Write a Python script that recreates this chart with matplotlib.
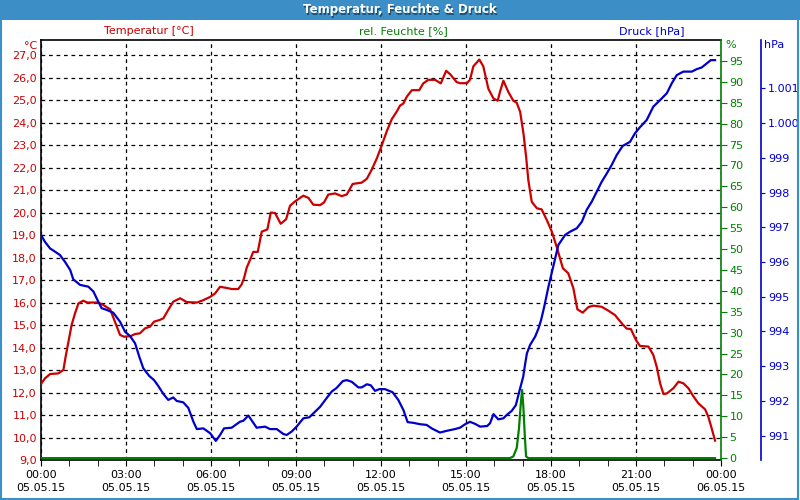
import numpy as np
import matplotlib.pyplot as plt
from matplotlib.patches import Rectangle
from matplotlib.ticker import FixedLocator, MultipleLocator, FuncFormatter

# hours since 05.05.15 00:00
t_hours = [0.00, 0.14, 0.32, 0.61, 0.79, 0.87, 0.96, 1.08, 1.20, 1.32, 1.49, 1.63,
           2.02, 2.20, 2.44, 2.61, 2.79, 2.93, 3.17, 3.32, 3.49, 3.67, 3.85, 3.99,
           4.18, 4.32, 4.49, 4.67, 4.91, 5.14, 5.50, 5.72, 5.97, 6.14, 6.32, 6.55,
           6.73, 6.96, 7.08, 7.17, 7.26, 7.38, 7.49, 7.65, 7.79, 7.99, 8.11, 8.26,
           8.46, 8.65, 8.79, 8.97, 9.26, 9.44, 9.61, 9.85, 9.99, 10.14, 10.38, 10.61,
           10.79, 11.00, 11.32, 11.50, 11.67, 11.85, 12.03, 12.20, 12.38, 12.56, 12.67,
           12.79, 12.91, 13.09, 13.35, 13.49, 13.67, 13.91, 14.11, 14.30, 14.44, 14.67,
           14.79, 15.03, 15.14, 15.26, 15.47, 15.61, 15.79, 15.97, 16.12, 16.20, 16.32,
           16.49, 16.67, 16.79, 16.91, 17.03, 17.12, 17.20, 17.32, 17.50, 17.67, 17.85,
           18.03, 18.20, 18.42, 18.61, 18.79, 18.93, 19.12, 19.32, 19.50, 19.79, 20.02,
           20.26, 20.50, 20.67, 20.82, 21.00, 21.14, 21.44, 21.61, 21.73, 21.85, 21.97,
           22.09, 22.32, 22.50, 22.67, 22.85, 23.02, 23.20, 23.44, 23.55, 23.67, 23.79]
temperatur = [12.38, 12.63, 12.82, 12.85, 13.0, 13.6, 14.19, 15.0, 15.52, 15.96, 16.08, 16.0,
              16.0, 15.89, 15.7, 15.15, 14.56, 14.48, 14.51, 14.6, 14.63, 14.85, 14.93, 15.15,
              15.22, 15.3, 15.67, 16.04, 16.19, 16.02, 16.0, 16.1, 16.25, 16.4, 16.7, 16.65,
              16.6, 16.6, 16.8, 17.1, 17.55, 17.9, 18.25, 18.25, 19.15, 19.25, 20.0, 19.98,
              19.5, 19.7, 20.3, 20.5, 20.75, 20.65, 20.35, 20.33, 20.45, 20.8, 20.85, 20.73,
              20.8, 21.27, 21.33, 21.5, 21.9, 22.4, 23.0, 23.6, 24.15, 24.5, 24.75,
              24.85, 25.15, 25.44, 25.44, 25.74, 25.9, 25.9, 25.74, 26.3, 26.15, 25.8,
              25.75, 25.75, 25.9, 26.5, 26.8, 26.5, 25.5, 25.07, 24.97, 25.37, 25.86,
              25.37, 24.97, 24.88, 24.48, 23.5, 22.5, 21.44, 20.48, 20.19, 20.14, 19.67,
              19.15, 18.48, 17.52, 17.3, 16.63, 15.7, 15.55, 15.8, 15.86, 15.81, 15.64,
              15.44, 15.07, 14.84, 14.82, 14.33, 14.07, 14.04, 13.67, 13.15, 12.41, 11.93,
              11.96, 12.19, 12.48, 12.41, 12.19, 11.84, 11.52, 11.25, 10.93, 10.41, 9.86]

p_hours = [0.00, 0.14, 0.32, 0.49, 0.67, 0.85, 1.03, 1.14, 1.38, 1.67, 1.85, 2.02, 2.14,
           2.32, 2.55, 2.79, 2.97, 3.14, 3.32, 3.47, 3.61, 3.82, 3.99, 4.14, 4.32, 4.49,
           4.67, 4.79, 5.02, 5.20, 5.38, 5.50, 5.73, 5.97, 6.17, 6.32, 6.46, 6.73, 7.02,
           7.14, 7.32, 7.61, 7.91, 8.08, 8.32, 8.55, 8.67, 8.85, 9.02, 9.26, 9.47, 9.61,
           9.85, 10.08, 10.26, 10.44, 10.65, 10.79, 10.97, 11.20, 11.32, 11.50, 11.64,
           11.79, 11.94, 12.14, 12.41, 12.61, 12.79, 12.94, 13.14, 13.38, 13.61, 13.79,
           14.08, 14.32, 14.61, 14.79, 14.97, 15.14, 15.32, 15.50, 15.75, 15.85, 15.97,
           16.14, 16.32, 16.44, 16.61, 16.76, 16.88, 17.02, 17.09, 17.15, 17.26, 17.44,
           17.56, 17.65, 17.76, 17.91, 18.09, 18.26, 18.50, 18.67, 18.91, 19.09, 19.26,
           19.44, 19.61, 19.79, 19.97, 20.14, 20.32, 20.53, 20.79, 20.96, 21.14, 21.38,
           21.61, 21.85, 22.09, 22.26, 22.44, 22.67, 22.97, 23.14, 23.32, 23.50, 23.64, 23.79]
druck = [996.78, 996.58, 996.39, 996.3, 996.2, 996.0, 995.77, 995.5, 995.34, 995.29, 995.15,
         994.86, 994.67, 994.62, 994.54, 994.28, 993.99, 993.87, 993.66, 993.27, 992.94,
         992.72, 992.6, 992.43, 992.2, 992.03, 992.1, 992.0, 991.96, 991.8, 991.4, 991.19,
         991.21, 991.07, 990.85, 991.02, 991.21, 991.23, 991.4, 991.43, 991.58, 991.23,
         991.26, 991.19, 991.19, 991.05, 991.02, 991.12, 991.26, 991.5, 991.53, 991.64,
         991.83, 992.08, 992.27, 992.38, 992.57, 992.6, 992.55, 992.39, 992.39, 992.48,
         992.45, 992.29, 992.34, 992.34, 992.25, 992.03, 991.74, 991.39, 991.37, 991.33,
         991.31, 991.21, 991.09, 991.14, 991.19, 991.23, 991.33, 991.4, 991.34, 991.26,
         991.28, 991.36, 991.62, 991.47, 991.5, 991.6, 991.71, 991.88, 992.27, 992.7,
         993.08, 993.37, 993.61, 993.85, 994.09, 994.33, 994.71, 995.29, 995.91, 996.49,
         996.78, 996.87, 996.97, 997.16, 997.5, 997.74, 998.02, 998.31, 998.55, 998.79,
         999.08, 999.34, 999.46, 999.7, 999.88, 1000.09, 1000.47, 1000.66, 1000.86,
         1001.14, 1001.38, 1001.48, 1001.48, 1001.55, 1001.6, 1001.72, 1001.81, 1001.81]

h_hours = [0.0, 16.55, 16.67, 16.79, 16.87, 16.93, 16.98, 17.02, 17.08, 17.12, 17.20, 23.79]
feuchte = [0.0, 0.0, 0.4, 2.4, 7.1, 12.7, 16.3, 12.7, 4.8, 0.4, 0.0, 0.0]

x_ticks = [0, 3, 6, 9, 12, 15, 18, 21, 24]
x_labels = ["00:00\n05.05.15", "03:00\n05.05.15", "06:00\n05.05.15", "09:00\n05.05.15",
            "12:00\n05.05.15", "15:00\n05.05.15", "18:00\n05.05.15", "21:00\n05.05.15",
            "00:00\n06.05.15"]

RED = "#cc0000"
GREEN = "#008000"
BLUE = "#0000cc"
BAR = "#3c8fc6"

plt.rcParams["font.family"] = "DejaVu Sans"
fig = plt.figure(figsize=(8, 5), dpi=100)
fig.patch.set_facecolor("white")

# title bar and frame
fig.patches.append(Rectangle((0, 0.96), 1, 0.04, transform=fig.transFigure,
                             facecolor=BAR, edgecolor="none", zorder=0))
fig.patches.append(Rectangle((0.001, 0.002), 0.997, 0.997, transform=fig.transFigure,
                             facecolor="none", edgecolor=BAR, linewidth=1.5, zorder=5))
fig.text(0.5015, 0.978, "Temperatur, Feuchte & Druck", color="#1a4d70", fontsize=8.5,
         fontweight="bold", ha="center", va="center")
fig.text(0.5, 0.98, "Temperatur, Feuchte & Druck", color="white", fontsize=8.5,
         fontweight="bold", ha="center", va="center")

left, bottom = 41 / 800, 40 / 500
width, height = 680 / 800, 420 / 500
ax = fig.add_axes([left, bottom, width, height])
ax_h = ax.twinx()
ax_p = ax.twinx()

# temperature axis
ax.plot(t_hours, temperatur, color=RED, linewidth=1.6, zorder=4)
ax.set_xlim(0, 24)
ax.set_ylim(9.0, 27.67)
ax.yaxis.set_major_locator(FixedLocator(np.arange(9, 28, 1)))
ax.yaxis.set_major_formatter(FuncFormatter(lambda v, p: ("%.1f" % v).replace(".", ",")))
ax.tick_params(axis="y", colors=RED, labelsize=8, length=0, pad=3)
ax.set_xticks(x_ticks)
ax.set_xticklabels(x_labels, fontsize=8, linespacing=1.45)
ax.xaxis.set_minor_locator(MultipleLocator(1))
ax.tick_params(axis="x", which="both", direction="out", length=4, color="black", pad=3)
ax.grid(True, which="major", color="black", linestyle=(0, (3, 3)), linewidth=0.9)
for s in ["left", "top", "bottom"]:
    ax.spines[s].set_color("black")
    ax.spines[s].set_linewidth(1.2)
ax.spines["right"].set_visible(False)

# humidity axis
ax_h.plot(h_hours, feuchte, color=GREEN, linewidth=1.6, zorder=3)
ax_h.set_ylim(-0.45, 100)
ax_h.yaxis.set_major_locator(FixedLocator(np.arange(0, 100, 5)))
ax_h.tick_params(axis="y", colors=GREEN, labelsize=8, length=4, pad=2)
ax_h.spines["right"].set_color(GREEN)
ax_h.spines["right"].set_linewidth(1.2)
for s in ["left", "top", "bottom"]:
    ax_h.spines[s].set_visible(False)

# pressure axis
ax_p.plot(p_hours, druck, color=BLUE, linewidth=1.6, zorder=4)
ax_p.set_ylim(990.30, 1002.39)
ax_p.spines["right"].set_position(("axes", (761 - 41) / 680))
ax_p.spines["right"].set_color(BLUE)
ax_p.spines["right"].set_linewidth(1.2)
for s in ["left", "top", "bottom"]:
    ax_p.spines[s].set_visible(False)
ax_p.yaxis.set_major_locator(FixedLocator(np.arange(991, 1002, 1)))
ax_p.yaxis.set_major_formatter(FuncFormatter(lambda v, p: "{:,.0f}".format(v).replace(",", ".")))
ax_p.tick_params(axis="y", colors=BLUE, labelsize=8, length=3, pad=2)

# series names and units
fig.text(149 / 800, 1 - 31 / 500, "Temperatur [°C]", color=RED, fontsize=8, ha="center", va="center")
fig.text(403 / 800, 1 - 31 / 500, "rel. Feuchte [%]", color=GREEN, fontsize=8, ha="center", va="center")
fig.text(652 / 800, 1 - 31 / 500, "Druck [hPa]", color=BLUE, fontsize=8, ha="center", va="center")
fig.text(37 / 800, 1 - 46 / 500, "°C", color=RED, fontsize=8, ha="right", va="center")
fig.text(725 / 800, 1 - 45 / 500, "%", color=GREEN, fontsize=8, ha="left", va="center")
fig.text(764 / 800, 1 - 45 / 500, "hPa", color=BLUE, fontsize=8, ha="left", va="center")

fig.savefig("out.png", dpi=100)
